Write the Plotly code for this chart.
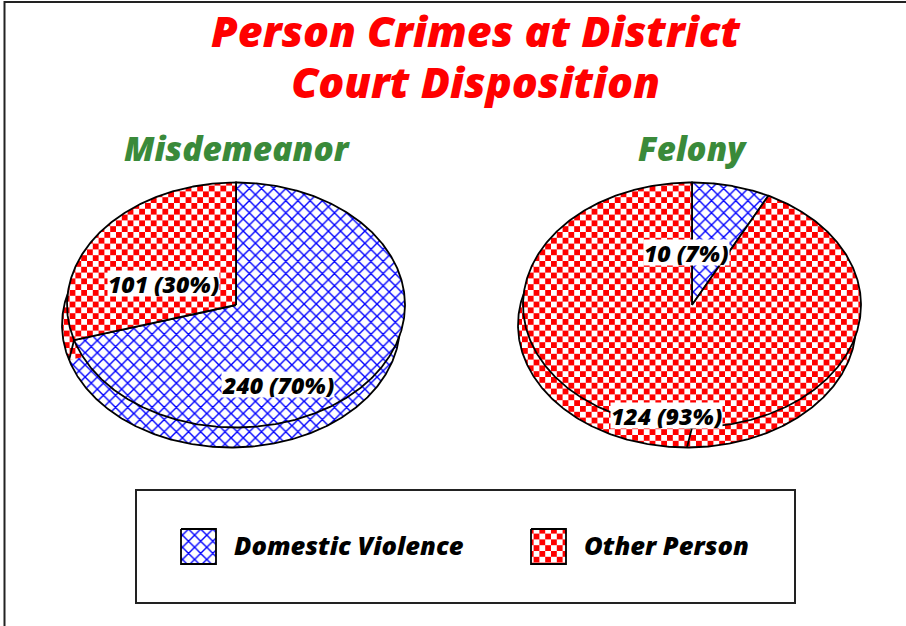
import numpy as np
import plotly.graph_objects as go

categories = ["Domestic Violence", "Other Person"]
panel_titles = ["Misdemeanor", "Felony"]
misdemeanor_values = [240, 101]
felony_values = [10, 124]
misdemeanor_labels = ["240 (70%)", "101 (30%)"]
felony_labels = ["10 (7%)", "124 (93%)"]
chart_title = "Person Crimes at District<br>Court Disposition"

FONT = "Open Sans"
BLUE = dict(shape="x", fgcolor="#0000ff", fgopacity=1, bgcolor="white", size=8.6, solidity=0.3)
RED = dict(shape="+", fgcolor="#ff0000", fgopacity=1, bgcolor="white", size=11.6, solidity=0.5)
PATTERNS = [BLUE, RED]
RX, RY = 169, 122.5
DX, DY = -5, 20
LW = 1.8


def arc(cx, cy, a0, a1):
    t = np.radians(np.linspace(a0, a1, max(3, int(abs(a1 - a0)) * 2)))
    return cx + RX * np.sin(t), cy - RY * np.cos(t)


fig = go.Figure()


def add_poly(x, y, pattern=None, line_w=LW, closed=True):
    fig.add_trace(go.Scatter(
        x=list(x), y=list(y), mode="lines", hoverinfo="skip", showlegend=False,
        fill="toself" if closed else "none",
        fillcolor="white" if closed else None,
        fillpattern=pattern if pattern else None,
        line=dict(color="black", width=line_w),
    ))


def add_pie(cx, cy, values, seam=None):
    total = sum(values)
    edges = np.cumsum([0] + values) / total * 360
    bx, by = cx + DX, cy + DY
    # extruded base: fills, then outline, then the seams between base and top
    for i in range(len(values)):
        xs, ys = arc(bx, by, edges[i], edges[i + 1])
        add_poly(np.r_[bx, xs, bx], np.r_[by, ys, by], PATTERNS[i], 0)
    xs, ys = arc(bx, by, 0, 360)
    add_poly(xs, ys, None, LW, closed=False)
    for ang in [edges[1]] + ([seam] if seam is not None else []):
        tx, ty = arc(cx, cy, ang, ang + 1)
        qx, qy = arc(bx, by, ang, ang + 1)
        add_poly([tx[0], qx[0]], [ty[0], qy[0]], None, LW, closed=False)
    # top face
    for i in range(len(values)):
        xs, ys = arc(cx, cy, edges[i], edges[i + 1])
        add_poly(np.r_[cx, xs, cx], np.r_[cy, ys, cy], PATTERNS[i], LW)


add_pie(236, 305, misdemeanor_values)
add_pie(692, 305, felony_values, seam=180)

# legend swatches
for sx, pat in zip([181, 531], PATTERNS):
    add_poly([sx, sx + 35, sx + 35, sx, sx], [529, 529, 564, 564, 529], pat, LW)


def text(x, y, s, size, color="black", anchor="center", bg=None, pad=0, height=None):
    fig.add_annotation(
        x=x, y=y, text=s, showarrow=False, xanchor=anchor, yanchor="middle",
        xref="x", yref="y", bgcolor=bg, borderpad=pad, align="center", height=height,
        font=dict(family=FONT, size=size, color=color, weight=800, style="italic"),
    )


text(476, 58, chart_title, 43, "#ff0000")
text(237, 148, panel_titles[0], 33.5, "#3a8a3a")
text(692, 148, panel_titles[1], 33, "#3a8a3a")
text(278, 384, misdemeanor_labels[0], 23, bg="white", height=25)
text(163, 283, misdemeanor_labels[1], 23, bg="white", height=25)
text(686, 252, felony_labels[0], 23, bg="white", height=25)
text(666, 415, felony_labels[1], 23, bg="white", height=25)
text(233, 545, categories[0], 25.5, anchor="left")
text(583, 545, categories[1], 25.5, anchor="left")

fig.update_layout(
    width=906, height=626, margin=dict(l=0, r=0, t=0, b=0),
    paper_bgcolor="white", plot_bgcolor="white", showlegend=False,
    xaxis=dict(range=[0, 906], visible=False, fixedrange=True),
    yaxis=dict(range=[626, 0], visible=False, fixedrange=True),
    shapes=[
        dict(type="rect", xref="x", yref="y", x0=4.5, y0=2, x1=960, y1=680,
             line=dict(color="#222222", width=2), layer="below"),
        dict(type="rect", xref="x", yref="y", x0=136, y0=490, x1=795, y1=603,
             line=dict(color="#222222", width=2), layer="below"),
    ],
)

# Plotly has no checkerboard fill: turn the red pattern tile into one.
# The title's line spacing is also tightened here (fixed at 1.3em in Plotly).
checker = """
document.body.style.margin = '0';
document.querySelectorAll('.annotation-text tspan.line').forEach(function (t) {
  if (parseFloat(t.getAttribute('dy')) > 0) t.setAttribute('dy', '1.18em');
});
document.querySelectorAll('pattern').forEach(function (p) {
  if (!/255, ?0, ?0|#ff0000|:red/i.test(p.outerHTML)) return;
  var s = 11.6;
  p.setAttribute('width', s); p.setAttribute('height', s);
  p.removeAttribute('viewBox'); p.removeAttribute('patternTransform');
  while (p.firstChild) p.removeChild(p.firstChild);
  var ns = 'http://www.w3.org/2000/svg';
  [[0, 0, 'white', s, s], [0, 0, '#ff0000', s / 2, s / 2], [s / 2, s / 2, '#ff0000', s / 2, s / 2]].forEach(function (r) {
    var e = document.createElementNS(ns, 'rect');
    e.setAttribute('x', r[0]); e.setAttribute('y', r[1]);
    e.setAttribute('width', r[3]); e.setAttribute('height', r[4]);
    e.setAttribute('fill', r[2]);
    p.appendChild(e);
  });
});
"""
fig.write_html("out.html", post_script=checker, config={"displayModeBar": False})
